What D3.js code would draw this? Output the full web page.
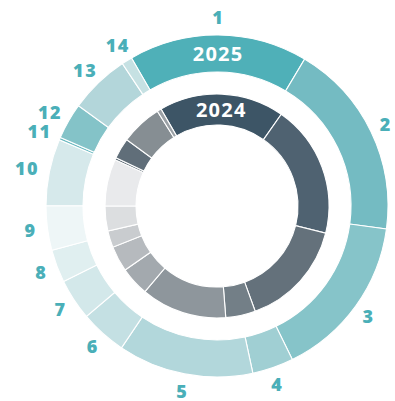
<!DOCTYPE html>
<html>
<head>
<meta charset="utf-8">
<script src="https://cdn.jsdelivr.net/npm/d3@7"></script>
<style>
  html, body { margin: 0; padding: 0; background: #fff; }
  svg { display: block; }
</style>
</head>
<body>
<svg id="chart" width="395" height="401"></svg>
<script>
// Category ids, shared by both rings
const categories = ["1","2","3","4","5","6","7","8","9","10","11","12","13","14"];

// Shares (%) per category
const values2025 = [16.9, 18.6, 15.6, 3.9, 12.8, 4.4, 3.9, 3.1, 4.2, 6.3, 0.25, 3.4, 5.7, 1.0];
const values2024 = [18.1, 19.2, 15.6, 4.3, 12.4, 4.2, 3.7, 2.4, 3.6, 6.8, 0.3, 3.0, 6.0, 0.6];

// Ring titles
const years = ["2025", "2024"];

// Segment colours
const colors2025 = ["#4fb0b8","#74bbc2","#86c4c9","#a0cfd3","#b2d7db","#c4e0e3","#d3e8ea",
                    "#e0eff0","#eef6f7","#d6e9eb","#6dbac1","#84c3c8","#b3d6da","#c6e1e3"];
const colors2024 = ["#3d5566","#4f6271","#64717b","#737f87","#8e969c","#a3a9ae","#b6babe",
                    "#c9cccf","#dcdee0","#e9eaec","#56656f","#606e79","#868e93","#9aa0a5"];

const FONT = "'Open Sans', sans-serif";

const svg = d3.select("#chart");
const cx = 217, cy = 206;
const g = svg.append("g").attr("transform", `translate(${cx},${cy})`);

const pie = d3.pie()
  .sort(null)
  .value(d => d.v)
  .startAngle(-Math.PI / 6)
  .endAngle(2 * Math.PI - Math.PI / 6);

const rings = [
  { year: years[0], values: values2025, colors: colors2025, r0: 134, r1: 171 },
  { year: years[1], values: values2024, colors: colors2024, r0: 81, r1: 112 }
];

rings.forEach((ring, ri) => {
  const data = categories.map((c, i) => ({ c, v: ring.values[i], col: ring.colors[i] }));
  const arcs = pie(data);
  const arc = d3.arc().innerRadius(ring.r0).outerRadius(ring.r1);
  const rg = g.append("g");
  rg.selectAll("path")
    .data(arcs)
    .join("path")
    .attr("d", arc)
    .attr("fill", d => d.data.col)
    .attr("stroke", "#fff")
    .attr("stroke-width", 1.1);

  // Year title centred on the first segment
  const rm = (ring.r0 + ring.r1) / 2;
  const a0 = arcs[0];
  const mid = (a0.startAngle + a0.endAngle) / 2;
  rg.append("text")
    .attr("x", rm * Math.sin(mid))
    .attr("y", -rm * Math.cos(mid) + 7)
    .attr("text-anchor", "middle")
    .attr("fill", "#fff")
    .attr("font-family", FONT)
    .attr("font-weight", 700)
    .attr("font-size", 20)
    .attr("letter-spacing", 1.2)
    .text(ring.year);

  // Category numbers just outside the outer ring
  if (ri === 0) {
    const rLab = 182, capH = 13;
    g.append("g").selectAll("text")
      .data(arcs)
      .join("text")
      .attr("text-anchor", "middle")
      .attr("fill", "#4aafb8")
      .attr("font-family", FONT)
      .attr("font-weight", 800)
      .attr("font-size", 18)
      .attr("letter-spacing", 1.5)
      .text(d => d.data.c)
      .each(function (d) {
        const a = (d.startAngle + d.endAngle) / 2;
        const w = this.getComputedTextLength();
        const s = Math.sin(a), c = Math.cos(a);
        const x = (rLab + w / 2 * Math.abs(s)) * s;
        const y = -rLab * c - capH / 2 * c;
        d3.select(this).attr("x", x).attr("y", y + capH / 2);
      });
  }
});
</script>
</body>
</html>
